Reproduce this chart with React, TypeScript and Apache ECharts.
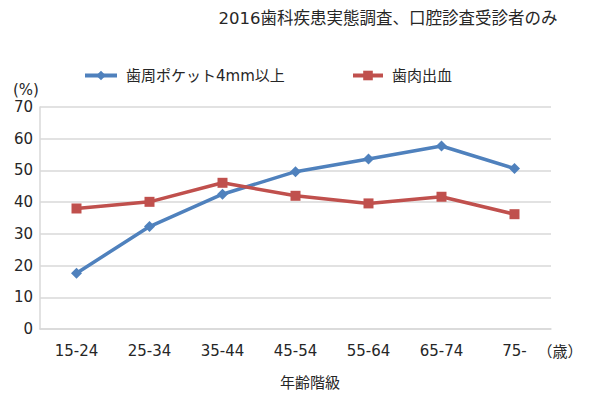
import React, { useEffect, useRef } from "react";
import * as echarts from "echarts";

const categories = ["15-24", "25-34", "35-44", "45-54", "55-64", "65-74", "75-"];
const pocketName = "歯周ポケット4mm以上";
const bleedingName = "歯肉出血";
const pocketValues = [17.6, 32.3, 42.5, 49.6, 53.6, 57.7, 50.6];
const bleedingValues = [38.0, 40.1, 46.1, 42.0, 39.6, 41.7, 36.2];
const titleText = "2016歯科疾患実態調査、口腔診査受診者のみ";
const yUnit = "(%)";
const xUnit = "（歳）";
const xName = "年齢階級";

const FONT = "'DejaVu Sans', 'Noto Sans CJK JP', sans-serif";
const TEXT = "#262626";
const BLUE = "#4F81BD";
const RED = "#C0504D";

export default function App() {
  const ref = useRef<HTMLDivElement>(null);
  useEffect(() => {
    if (!ref.current) return;
    const chart = echarts.init(ref.current, undefined, { renderer: "svg" });
    chart.setOption({
      animation: false,
      backgroundColor: "#ffffff",
      textStyle: { fontFamily: FONT, color: TEXT },
      legend: [
        {
          data: [pocketName],
          left: 78,
          top: 63,
          itemWidth: 32,
          itemHeight: 12,
          lineStyle: { width: 4, color: BLUE },
          textStyle: { fontSize: 15, color: TEXT, fontFamily: FONT, padding: [0, 0, 0, 4] },
        },
        {
          data: [bleedingName],
          left: 346,
          top: 63,
          itemWidth: 30,
          itemHeight: 12,
          lineStyle: { width: 4, color: RED },
          textStyle: { fontSize: 15, color: TEXT, fontFamily: FONT, padding: [0, 0, 0, 4] },
        },
      ],
      grid: { left: 40, right: 49, top: 107, bottom: 71, containLabel: false },
      xAxis: {
        type: "category",
        data: categories,
        boundaryGap: true,
        axisTick: { show: false },
        axisLine: { show: true, lineStyle: { color: "#D9D9D9", width: 1.5 } },
        axisLabel: { fontSize: 15, color: TEXT, margin: 14, fontFamily: FONT },
        splitLine: { show: false },
      },
      yAxis: {
        type: "value",
        min: 0,
        max: 70,
        interval: 10,
        axisLine: { show: true, lineStyle: { color: "#D9D9D9", width: 1.5 } },
        axisTick: { show: false },
        axisLabel: { fontSize: 15, color: TEXT, margin: 7, fontFamily: FONT },
        splitLine: { show: true, lineStyle: { color: "#D9D9D9", width: 1.5 } },
      },
      series: [
        {
          name: pocketName,
          type: "line",
          data: pocketValues,
          symbol: "diamond",
          symbolSize: 11,
          lineStyle: { color: BLUE, width: 3.5 },
          itemStyle: { color: BLUE },
        },
        {
          name: bleedingName,
          type: "line",
          data: bleedingValues,
          symbol: "rect",
          symbolSize: 10,
          lineStyle: { color: RED, width: 3.5 },
          itemStyle: { color: RED },
        },
      ],
      graphic: [
        {
          type: "text",
          x: 388,
          y: 18,
          style: {
            text: titleText,
            fontSize: 16.5,
            fontFamily: FONT,
            fill: TEXT,
            textAlign: "center",
            textVerticalAlign: "middle",
          },
        },
        {
          type: "text",
          x: 26,
          y: 90,
          style: {
            text: yUnit,
            fontSize: 15,
            fontFamily: FONT,
            fill: TEXT,
            textAlign: "center",
            textVerticalAlign: "middle",
          },
        },
        {
          type: "text",
          x: 560,
          y: 352,
          style: {
            text: xUnit,
            fontSize: 15,
            fontFamily: FONT,
            fill: TEXT,
            textAlign: "center",
            textVerticalAlign: "middle",
          },
        },
        {
          type: "text",
          x: 310,
          y: 383,
          style: {
            text: xName,
            fontSize: 15,
            fontFamily: FONT,
            fill: TEXT,
            textAlign: "center",
            textVerticalAlign: "middle",
          },
        },
      ],
    });
    return () => chart.dispose();
  }, []);
  return (
    <div
      ref={ref}
      style={{ position: "fixed", left: 0, top: 0, width: 600, height: 400 }}
    />
  );
}
